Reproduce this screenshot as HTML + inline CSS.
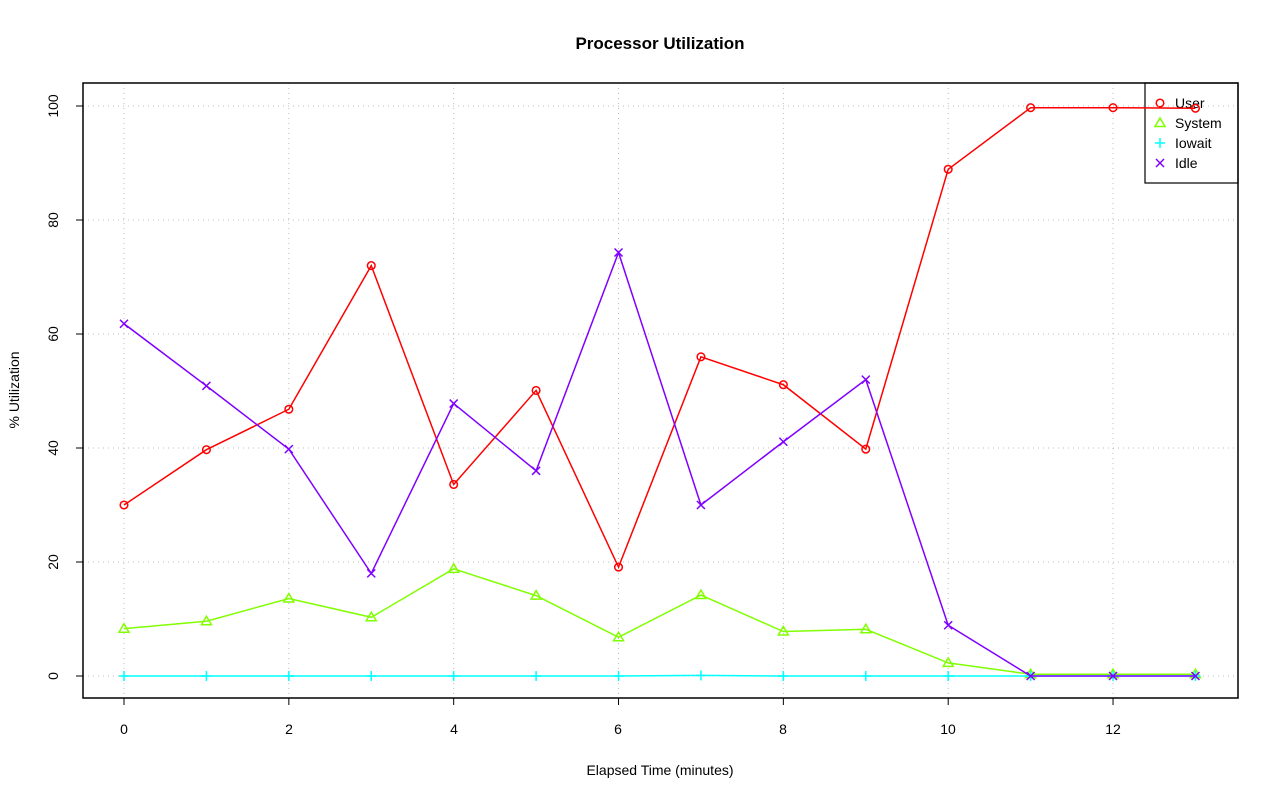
<!DOCTYPE html>
<html><head><meta charset="utf-8"><style>body{margin:0;background:#fff}svg{display:block}text{font-family:"Liberation Sans",sans-serif;font-size:14px}</style></head>
<body>
<svg id="s" width="1280" height="801" xmlns="http://www.w3.org/2000/svg">
<rect width="1280" height="801" fill="#fff"/>
<text x="660" y="49" text-anchor="middle" font-weight="bold" style="font-size:17px">Processor Utilization</text>
<text x="660" y="775" text-anchor="middle">Elapsed Time (minutes)</text>
<text transform="translate(19,390) rotate(-90)" text-anchor="middle">% Utilization</text>
<g text-anchor="middle">
<text x="124" y="734">0</text><text x="289" y="734">2</text><text x="454" y="734">4</text><text x="618" y="734">6</text><text x="783" y="734">8</text><text x="948" y="734">10</text><text x="1113" y="734">12</text>
<text transform="translate(58,676) rotate(-90)">0</text>
<text transform="translate(58,562) rotate(-90)">20</text>
<text transform="translate(58,448) rotate(-90)">40</text>
<text transform="translate(58,334) rotate(-90)">60</text>
<text transform="translate(58,220) rotate(-90)">80</text>
<text transform="translate(58,106) rotate(-90)">100</text>
</g>
<rect x="1145" y="83" width="93" height="100" fill="none" stroke="#000" stroke-width="1.2"/>
<text x="1175" y="108">User</text>
<text x="1175" y="128">System</text>
<text x="1175" y="148">Iowait</text>
<text x="1175" y="168">Idle</text>
<g id="lg"></g>
<g id="g"></g>
<rect x="83" y="83" width="1155" height="615" fill="none" stroke="#000" stroke-width="1.5"/>
</svg>
<script>
var ns="http://www.w3.org/2000/svg",g=document.getElementById('g'),lg=document.getElementById('lg');
function X(i){return 124+i*82.42}function Y(v){return 676-v*5.7}
function el(p,t,a){var e=document.createElementNS(ns,t);for(var k in a)e.setAttribute(k,a[k]);p.appendChild(e);return e}
for(var i=0;i<=12;i+=2)el(g,'line',{x1:X(i),x2:X(i),y1:83,y2:698,stroke:'#bbb','stroke-dasharray':'1,4'});
for(var v=0;v<=100;v+=20)el(g,'line',{x1:83,x2:1238,y1:Y(v),y2:Y(v),stroke:'#bbb','stroke-dasharray':'1,4'});
for(var i=0;i<=12;i+=2)el(g,'line',{x1:X(i),x2:X(i),y1:698,y2:705,stroke:'#000'});
for(var v=0;v<=100;v+=20)el(g,'line',{x1:76,x2:83,y1:Y(v),y2:Y(v),stroke:'#000'});
el(g,'line',{x1:X(0),x2:X(12),y1:698,y2:698,stroke:'#000'});
var S=[
['#ff0000','o',[30,39.7,46.8,72,33.6,50.1,19.1,56,51.1,39.8,88.9,99.7,99.7,99.6]],
['#80ff00','t',[8.3,9.6,13.6,10.3,18.8,14.1,6.8,14.2,7.8,8.2,2.3,0.3,0.3,0.3]],
['#00ffff','p',[0,0,0,0,0,0,0,0.1,0,0,0,0,0,0]],
['#8000ff','x',[61.8,50.9,39.8,18,47.8,36,74.3,30,41.1,52,8.9,0,0,0]]];
function mark(p,t,x,y,c){if(t=='o')el(p,'circle',{cx:x,cy:y,r:3.8,fill:'none',stroke:c,'stroke-width':1.5});
else if(t=='t')el(p,'polygon',{points:(x-5)+','+(y+3.5)+' '+(x+5)+','+(y+3.5)+' '+x+','+(y-5),fill:'none',stroke:c,'stroke-width':1.5});
else if(t=='p'){el(p,'line',{x1:x-5,x2:x+5,y1:y,y2:y,stroke:c,'stroke-width':1.5});el(p,'line',{x1:x,x2:x,y1:y-5,y2:y+5,stroke:c,'stroke-width':1.5});}
else{el(p,'line',{x1:x-4,x2:x+4,y1:y-4,y2:y+4,stroke:c,'stroke-width':1.5});el(p,'line',{x1:x-4,x2:x+4,y1:y+4,y2:y-4,stroke:c,'stroke-width':1.5});}}
S.forEach(function(s,k){var pts=s[2].map(function(v,i){return X(i)+','+Y(v)}).join(' ');
el(g,'polyline',{points:pts,fill:'none',stroke:s[0],'stroke-width':1.5});
s[2].forEach(function(v,i){mark(g,s[1],X(i),Y(v),s[0])});
mark(lg,s[1],1160,103+k*20,s[0]);});
</script>
</body></html>
